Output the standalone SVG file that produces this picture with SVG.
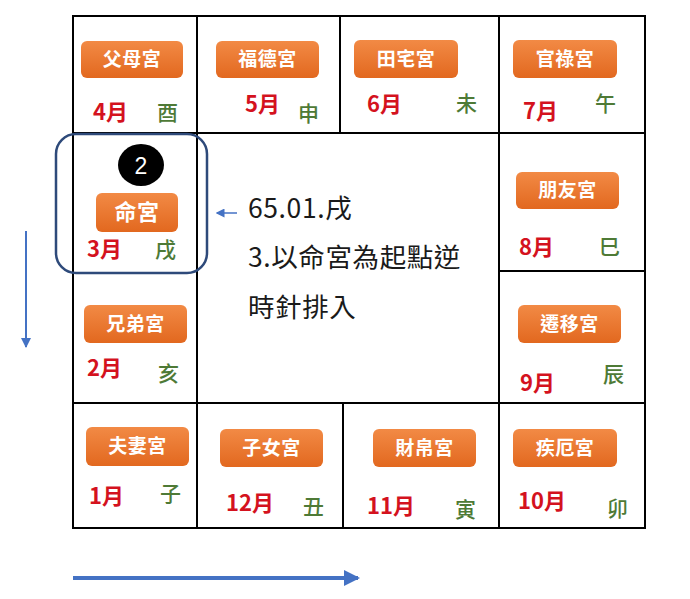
<svg xmlns="http://www.w3.org/2000/svg" width="690" height="599" viewBox="0 0 690 599">
<defs>
<linearGradient id="og" x1="0" y1="0" x2="0" y2="1">
<stop offset="0" stop-color="#F28A45"/>
<stop offset="1" stop-color="#E2681F"/>
</linearGradient>
<marker id="ah" markerWidth="4" markerHeight="4" refX="3.5" refY="2" orient="auto" markerUnits="strokeWidth">
<path d="M0,0 L4,2 L0,4 Z" fill="#4472C4"/>
</marker>
<marker id="ahd" markerWidth="5" markerHeight="5" refX="4.5" refY="2.5" orient="auto" markerUnits="strokeWidth">
<path d="M0,0 L5,2.5 L0,5 Z" fill="#4472C4"/>
</marker>
<marker id="ahs" markerWidth="6" markerHeight="6" refX="5" refY="3" orient="auto" markerUnits="strokeWidth">
<path d="M0,0 L6,3 L0,6 Z" fill="#4472C4"/>
</marker>
</defs>
<style>
.btn{fill:url(#og);}
.bt{font-family:"Noto Sans CJK TC","Noto Sans CJK SC",sans-serif;font-weight:bold;fill:#FFFFFF;font-size:19px;letter-spacing:0.5px;text-anchor:middle;}
.m{font-family:"Noto Sans CJK TC","Noto Sans CJK SC",sans-serif;font-weight:bold;fill:#D4121E;font-size:22px;}
.b{font-family:"Noto Sans CJK TC","Noto Sans CJK SC",sans-serif;font-weight:500;fill:#4E7A36;font-size:21px;}
.grid{stroke:#000;stroke-width:2;fill:none;}
.t{font-family:"Noto Sans CJK TC","Noto Sans CJK SC",sans-serif;fill:#1A1A1A;font-size:26.5px;letter-spacing:0.6px;}
</style>
<rect width="690" height="599" fill="#FFFFFF"/>
<g id="grid" class="grid">
<rect x="73" y="16" width="572" height="512"/>
<line x1="73" y1="133" x2="645" y2="133"/>
<line x1="73" y1="403" x2="645" y2="403"/>
<line x1="197" y1="16" x2="197" y2="528"/>
<line x1="340" y1="16" x2="340" y2="133"/>
<line x1="343" y1="403" x2="343" y2="528"/>
<line x1="499" y1="16" x2="499" y2="528"/>
<line x1="499" y1="271" x2="645" y2="271"/>
</g>
<g id="fumu"><rect class="btn" x="81" y="41" width="102" height="37" rx="6"/><text class="bt" x="132" y="66">父母宮</text><text class="m" x="93" y="120">4月</text><text class="b" x="157" y="120">酉</text></g>
<g id="fude"><rect class="btn" x="216" y="41" width="103" height="37" rx="6"/><text class="bt" x="267.5" y="66">福德宮</text><text class="m" x="245" y="112">5月</text><text class="b" x="298" y="121">申</text></g>
<g id="tianzhai"><rect class="btn" x="354" y="40" width="104" height="38" rx="6"/><text class="bt" x="406" y="66">田宅宮</text><text class="m" x="367" y="112">6月</text><text class="b" x="456" y="111">未</text></g>
<g id="guanlu"><rect class="btn" x="513" y="40" width="104" height="38" rx="6"/><text class="bt" x="565" y="66">官祿宮</text><text class="m" x="523" y="119">7月</text><text class="b" x="595" y="111">午</text></g>
<g id="pengyou"><rect class="btn" x="516" y="172" width="103" height="37" rx="6"/><text class="bt" x="567.5" y="197">朋友宮</text><text class="m" x="519" y="255">8月</text><text class="b" x="599" y="254">巳</text></g>
<g id="qianyi"><rect class="btn" x="518" y="305" width="103" height="38" rx="6"/><text class="bt" x="569.5" y="331">遷移宮</text><text class="m" x="520" y="391">9月</text><text class="b" x="603" y="382">辰</text></g>
<g id="ming">
<rect x="56" y="134" width="151" height="139" rx="20" fill="none" stroke="#2E4A7A" stroke-width="2.5"/>
<ellipse cx="141" cy="165" rx="23" ry="21" fill="#000000"/>
<text x="141" y="173.5" font-family="Liberation Sans, sans-serif" font-size="23" fill="#FFFFFF" text-anchor="middle">2</text>
<rect class="btn" x="96" y="193" width="82" height="39" rx="6"/><text class="bt" x="137" y="220" style="font-size:22px">命宮</text>
<text class="m" x="87" y="257">3月</text><text class="b" x="155" y="257">戌</text></g>
<g id="xiongdi"><rect class="btn" x="84" y="305" width="103" height="38" rx="6"/><text class="bt" x="135.5" y="331">兄弟宮</text><text class="m" x="87" y="376">2月</text><text class="b" x="158" y="381">亥</text></g>
<g id="fuqi"><rect class="btn" x="86" y="427" width="103" height="39" rx="6"/><text class="bt" x="137.5" y="453">夫妻宮</text><text class="m" x="89" y="504">1月</text><text class="b" x="160" y="501">子</text></g>
<g id="zinv"><rect class="btn" x="220" y="429" width="103" height="38" rx="6"/><text class="bt" x="271.5" y="455">子女宮</text><text class="m" x="226" y="511">12月</text><text class="b" x="303" y="514">丑</text></g>
<g id="caibo"><rect class="btn" x="373" y="429" width="103" height="38" rx="6"/><text class="bt" x="424.5" y="455">財帛宮</text><text class="m" x="367" y="514">11月</text><text class="b" x="455" y="517">寅</text></g>
<g id="jie"><rect class="btn" x="513" y="429" width="104" height="38" rx="6"/><text class="bt" x="565" y="455">疾厄宮</text><text class="m" x="518" y="509">10月</text><text class="b" x="607" y="516">卯</text></g>
<g id="note">
<text class="t" x="248" y="218">65.01.戌</text>
<text class="t" x="248" y="267">3.以命宮為起點逆</text>
<text class="t" x="248" y="317">時針排入</text>
</g>
<g id="connectors" fill="none" stroke="#4472C4">
<line x1="237" y1="213" x2="217" y2="213" stroke-width="1.5" marker-end="url(#ahs)"/>
<line x1="26" y1="231" x2="26" y2="347" stroke-width="2" marker-end="url(#ahd)"/>
<line x1="73" y1="578" x2="358" y2="578" stroke-width="4" marker-end="url(#ah)"/>
</g>
</svg>
